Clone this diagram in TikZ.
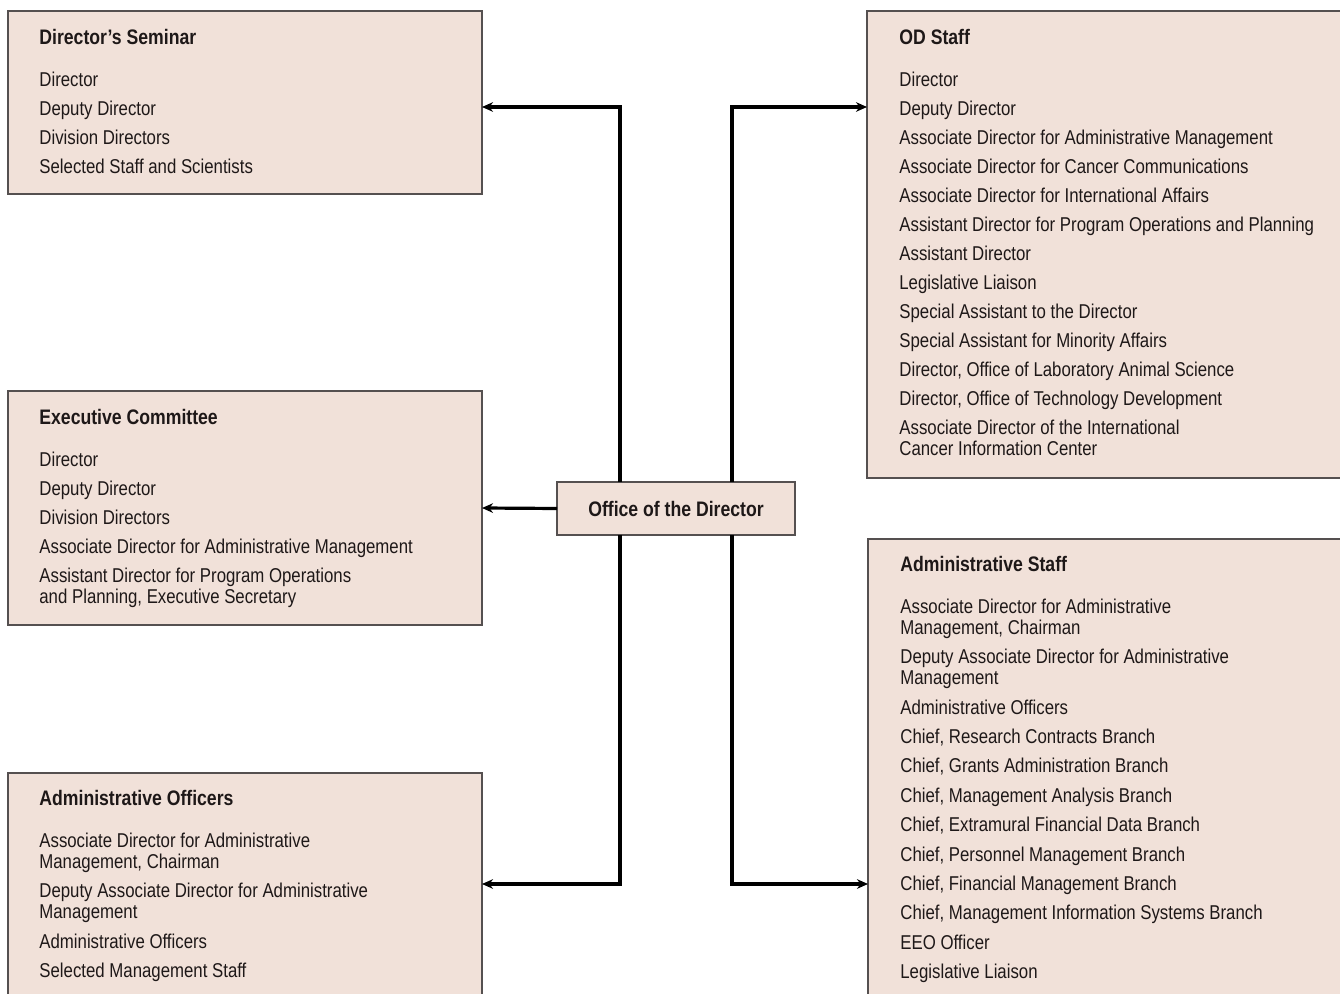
\documentclass[tikz,border=0pt]{standalone}
\usepackage{fontspec}
\setmainfont{Liberation Sans}[FakeStretch=0.84]
\usetikzlibrary{arrows.meta}
\definecolor{boxfill}{RGB}{241,225,217}
\definecolor{boxline}{RGB}{85,80,80}
\definecolor{txt}{RGB}{30,24,24}
\begin{document}
\begin{tikzpicture}[x=0.5pt,y=-0.5pt,
  box/.style={draw=boxline,line width=0.8pt,fill=boxfill,inner sep=0pt,outer sep=0pt,anchor=north west},
  boxtext/.style={anchor=north west,inner sep=0pt,align=left,text=txt,
    font=\fontsize{10}{10.5}\selectfont},
  conn/.style={line width=1.6pt,-{Stealth[length=5.5pt,width=4.8pt]}}]
\useasboundingbox[fill=white] (0,0) rectangle (1340,994);
% boxes
\node[box,minimum width=237pt,minimum height=91.5pt] (ds) at (8,11) {};
\node[box,minimum width=237pt,minimum height=117pt] (ec) at (8,391) {};
\node[box,minimum width=237pt,minimum height=111pt] (ao) at (8,773) {};
\node[box,minimum width=240pt,minimum height=233.5pt] (os) at (867,11) {};
\node[box,minimum width=240pt,minimum height=230.5pt] (as) at (868,539) {};
\node[box,minimum width=119pt,minimum height=26.5pt] (od) at (557,482) {};
\node[text=txt,font=\fontsize{10.5}{10.5}\selectfont\bfseries] (odt) at (od.center) {Office of the Director};
% texts
\node[boxtext] (dst) at (39,29) {{\bfseries\fontsize{10.5}{10.5}\selectfont Director's Seminar}\\[10.5pt]
Director\\[4pt]
Deputy Director\\[4pt]
Division Directors\\[4pt]
Selected Staff and Scientists};
\node[boxtext] (ect) at (39,409) {{\bfseries\fontsize{10.5}{10.5}\selectfont Executive Committee}\\[10.5pt]
Director\\[4pt]
Deputy Director\\[4pt]
Division Directors\\[4pt]
Associate Director for Administrative Management\\[4pt]
Assistant Director for Program Operations\\
and Planning, Executive Secretary};
\node[boxtext] (aot) at (39,790) {{\bfseries\fontsize{10.5}{10.5}\selectfont Administrative Officers}\\[10.5pt]
Associate Director for Administrative\\
Management, Chairman\\[4pt]
Deputy Associate Director for Administrative\\
Management\\[4.2pt]
Administrative Officers\\[4.2pt]
Selected Management Staff};
\node[boxtext] (ost) at (899,29) {{\bfseries\fontsize{10.5}{10.5}\selectfont OD Staff}\\[10.5pt]
Director\\[4pt]
Deputy Director\\[4pt]
Associate Director for Administrative Management\\[4pt]
Associate Director for Cancer Communications\\[4pt]
Associate Director for International Affairs\\[4pt]
Assistant Director for Program Operations and Planning\\[4pt]
Assistant Director\\[4pt]
Legislative Liaison\\[4pt]
Special Assistant to the Director\\[4pt]
Special Assistant for Minority Affairs\\[4pt]
Director, Office of Laboratory Animal Science\\[4pt]
Director, Office of Technology Development\\[4pt]
Associate Director of the International\\
Cancer Information Center};
\node[boxtext] (ast) at (900,556) {{\bfseries\fontsize{10.5}{10.5}\selectfont Administrative Staff}\\[10.5pt]
Associate Director for Administrative\\
Management, Chairman\\[4pt]
Deputy Associate Director for Administrative\\
Management\\[4.2pt]
Administrative Officers\\[4.2pt]
Chief, Research Contracts Branch\\[4.2pt]
Chief, Grants Administration Branch\\[4.2pt]
Chief, Management Analysis Branch\\[4.2pt]
Chief, Extramural Financial Data Branch\\[4.2pt]
Chief, Personnel Management Branch\\[4.2pt]
Chief, Financial Management Branch\\[4.2pt]
Chief, Management Information Systems Branch\\[4.2pt]
EEO Officer\\[4.2pt]
Legislative Liaison};
% connectors
\coordinate (L) at (620,0);
\coordinate (R) at (732,0);
\coordinate (ytop) at (0,107);
\coordinate (ybot) at (0,884);
\draw[conn] (od.north -| L) |- (ds.east |- ytop);
\draw[conn] (od.south -| L) |- (ao.east |- ybot);
\draw[conn] (od.north -| R) |- (os.west |- ytop);
\draw[conn] (od.south -| R) |- (as.west |- ybot);
\draw[conn] (od.west) -- (ec.east);
\end{tikzpicture}
\end{document}
